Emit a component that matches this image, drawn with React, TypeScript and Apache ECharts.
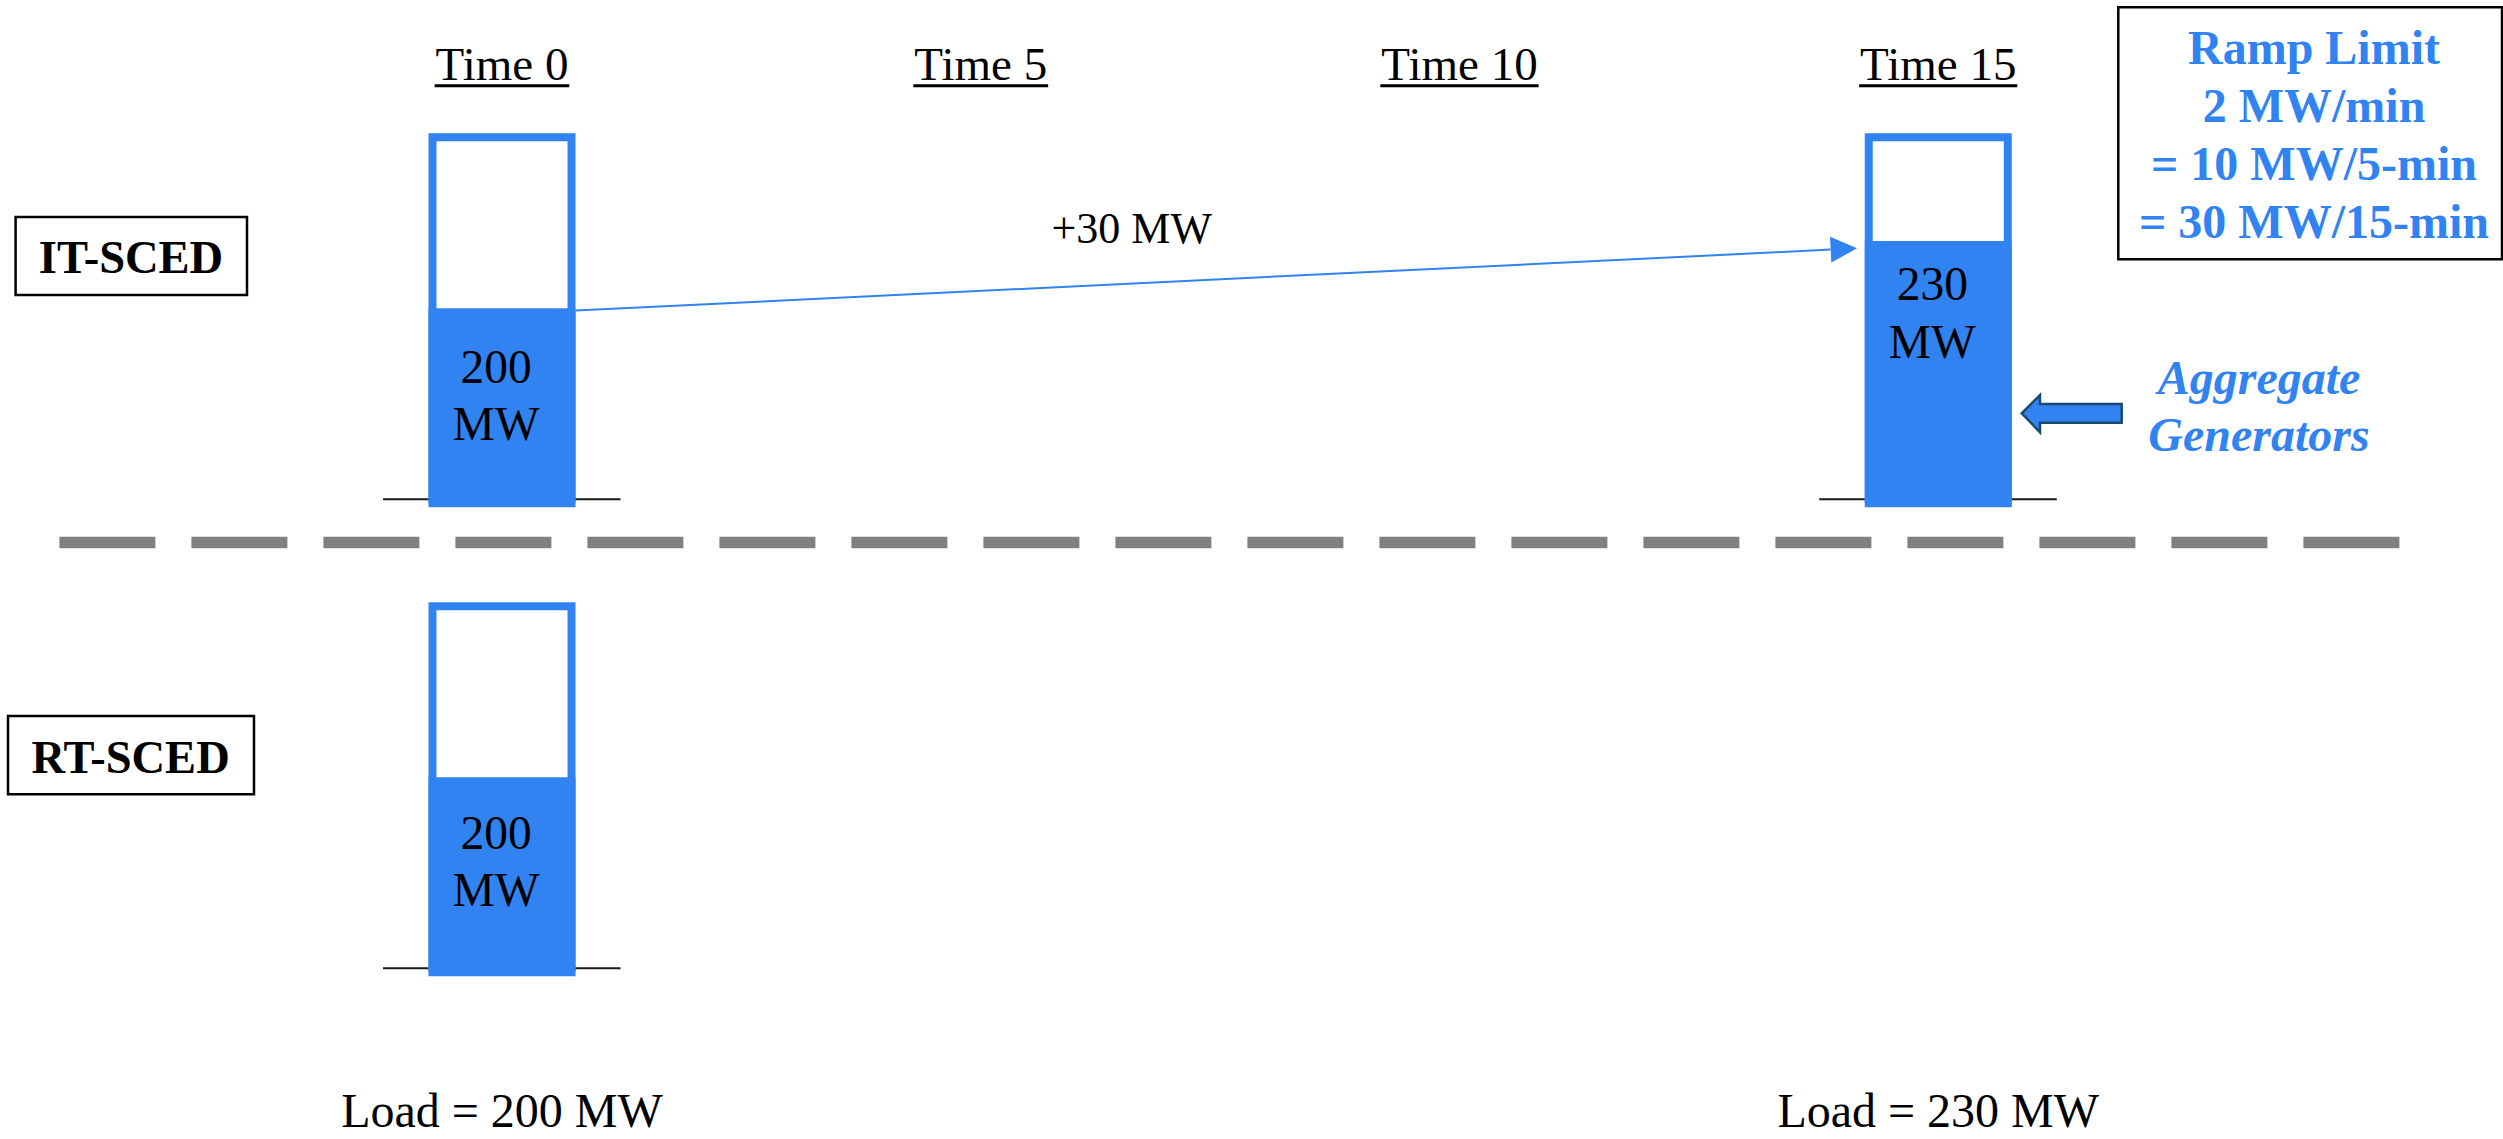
import React, { useEffect, useRef } from 'react';
import * as echarts from 'echarts';

// ---- data ----
const timeMarks = [0, 5, 10, 15];
const timeLabels = ['Time 0', 'Time 5', 'Time 10', 'Time 15'];

// IT-SCED dispatch of the aggregate generators (MW) at each interval shown
const itScedTimes = [0, 15];
const itScedMw = [200, 230];

// RT-SCED dispatch (MW)
const rtScedTimes = [0];
const rtScedMw = [200];

// system load (MW)
const loadTimes = [0, 15];
const loadMw = [200, 230];

// ramp limit of the aggregate generators
const rampMwPerMin = 2;

// column scale: bottom and top of each generator column (MW)
const UNIT_FLOOR_MW = 113;
const UNIT_CAP_MW = 278;

// ---- styles ----
const W = 2503;
const H = 1139;
const BLUE = '#3083F0';
const SERIF = '"Liberation Serif", "Times New Roman", Times, serif';
const BAR_W = 147;
const BAR_BORDER = 8;
const GRID_LEFT = 502;
const GRID_WIDTH = 1436.25;
const GRID_HEIGHT = 370;
const IT_TOP = 133.3;
const RT_TOP = 602.3;

// vertical position of the in-column label, measured down from the fill top
const itLabelDrop = [30, 14.5];
const rtLabelDrop = [27];

let measureCtx: CanvasRenderingContext2D | null = null;
function textWidth(text: string, font: string): number {
  if (!measureCtx) measureCtx = document.createElement('canvas').getContext('2d');
  if (!measureCtx) return text.length * 24;
  measureCtx.font = font;
  return measureCtx.measureText(text).width;
}

function makeUnitRenderer(labelDrop: number[]) {
  return (params: any, api: any) => {
    const t = api.value(0);
    const mw = api.value(1);
    const [cx, yFill] = api.coord([t, mw]);
    const yTop = api.coord([t, UNIT_CAP_MW])[1];
    const yBase = api.coord([t, UNIT_FLOOR_MW])[1];
    const half = BAR_W / 2;
    return {
      type: 'group',
      children: [
        {
          type: 'line',
          shape: { x1: cx - 119, y1: yBase - 4, x2: cx + 118.5, y2: yBase - 4 },
          style: { stroke: '#1a1a1a', lineWidth: 2 },
        },
        {
          type: 'rect',
          shape: {
            x: cx - half + BAR_BORDER / 2,
            y: yTop + BAR_BORDER / 2,
            width: BAR_W - BAR_BORDER,
            height: yBase - yTop - BAR_BORDER / 2,
          },
          style: { fill: '#ffffff', stroke: BLUE, lineWidth: BAR_BORDER },
        },
        {
          type: 'rect',
          shape: { x: cx - half, y: yFill, width: BAR_W, height: yBase - yFill },
          style: { fill: BLUE },
        },
        {
          type: 'text',
          x: cx - 6,
          y: yFill + labelDrop[params.dataIndex],
          style: {
            text: `${mw}\nMW`,
            fontSize: 47.5,
            fontFamily: SERIF,
            fill: '#000',
            align: 'center',
            verticalAlign: 'top',
            lineHeight: 57.5,
          },
        },
      ],
    };
  };
}

function renderTimeHeader(params: any, api: any) {
  const t = api.value(0);
  const [cx, yTop] = api.coord([t, UNIT_CAP_MW]);
  const label = timeLabels[params.dataIndex];
  const w = textWidth(label, `47px ${SERIF}`);
  return {
    type: 'group',
    children: [
      {
        type: 'text',
        x: cx,
        y: yTop - 69.5,
        style: {
          text: label,
          fontSize: 47,
          fontFamily: SERIF,
          fill: '#000',
          align: 'center',
          verticalAlign: 'middle',
        },
      },
      {
        type: 'line',
        shape: { x1: cx - w / 2 - 1, y1: yTop - 47.6, x2: cx + w / 2 + 1, y2: yTop - 47.6 },
        style: { stroke: '#000', lineWidth: 3 },
      },
    ],
  };
}

function renderLoad(params: any, api: any) {
  const t = api.value(0);
  const mw = api.value(1);
  const cx = api.coord([t, UNIT_FLOOR_MW])[0];
  const yBase = api.coord([t, UNIT_FLOOR_MW])[1];
  return {
    type: 'text',
    x: cx,
    y: yBase + 138,
    style: {
      text: `Load = ${mw} MW`,
      fontSize: 48,
      fontFamily: SERIF,
      fill: '#000',
      align: 'center',
      verticalAlign: 'middle',
      lineHeight: 40,
    },
  };
}

function renderRampArrow(params: any, api: any) {
  const t0 = api.value(0);
  const mw0 = api.value(1);
  const t1 = api.value(2);
  const mw1 = api.value(3);
  const start = api.coord([t0, mw0]);
  const end = api.coord([t1, mw1]);
  const sx = start[0] + BAR_W / 2;
  const sy = start[1] + 2.4;
  const tx = end[0] - BAR_W / 2 - 7.7;
  const ty = end[1] + 7.4;
  const ang = Math.atan2(ty - sy, tx - sx);
  const headLen = 26.4;
  const headHalf = 13;
  const bx = tx - headLen * Math.cos(ang);
  const by = ty - headLen * Math.sin(ang);
  const px = -Math.sin(ang) * headHalf;
  const py = Math.cos(ang) * headHalf;
  const f = 0.434;
  const lx = sx + f * (tx - sx);
  const ly = sy + f * (ty - sy) - 55;
  return {
    type: 'group',
    children: [
      {
        type: 'line',
        shape: { x1: sx, y1: sy, x2: bx, y2: by },
        style: { stroke: BLUE, lineWidth: 2 },
      },
      {
        type: 'polygon',
        shape: { points: [[tx, ty], [bx + px, by + py], [bx - px, by - py]] },
        style: { fill: BLUE },
      },
      {
        type: 'text',
        x: lx,
        y: ly,
        style: {
          text: `+${mw1 - mw0} MW`,
          fontSize: 44,
          fontFamily: SERIF,
          fill: '#000',
          align: 'center',
          verticalAlign: 'middle',
        },
      },
    ],
  };
}

function buildOption(): any {
  const itData = itScedTimes.map((t, i) => [t, itScedMw[i]]);
  const rtData = rtScedTimes.map((t, i) => [t, rtScedMw[i]]);
  const loadData = loadTimes.map((t, i) => [t, loadMw[i]]);
  const headerData = timeMarks.map((t) => [t, UNIT_CAP_MW]);
  const arrowData = [[itScedTimes[0], itScedMw[0], itScedTimes[1], itScedMw[1]]];

  const rampLines = [
    'Ramp Limit',
    `${rampMwPerMin} MW/min`,
    `= ${rampMwPerMin * 5} MW/5-min`,
    `= ${rampMwPerMin * 15} MW/15-min`,
  ].join('\n');

  const xAxisBase = { type: 'value', min: 0, max: 15, show: false };
  const yAxisBase = { type: 'value', min: UNIT_FLOOR_MW, max: UNIT_CAP_MW, show: false };

  return {
    animation: false,
    backgroundColor: '#ffffff',
    grid: [
      { left: GRID_LEFT, top: IT_TOP, width: GRID_WIDTH, height: GRID_HEIGHT },
      { left: GRID_LEFT, top: RT_TOP, width: GRID_WIDTH, height: GRID_HEIGHT },
    ],
    xAxis: [
      { ...xAxisBase, gridIndex: 0 },
      { ...xAxisBase, gridIndex: 1 },
    ],
    yAxis: [
      { ...yAxisBase, gridIndex: 0 },
      { ...yAxisBase, gridIndex: 1 },
    ],
    series: [
      {
        name: 'Time headers',
        type: 'custom',
        xAxisIndex: 0,
        yAxisIndex: 0,
        clip: false,
        silent: true,
        data: headerData,
        renderItem: renderTimeHeader,
      },
      {
        name: 'IT-SCED',
        type: 'custom',
        xAxisIndex: 0,
        yAxisIndex: 0,
        clip: false,
        silent: true,
        data: itData,
        renderItem: makeUnitRenderer(itLabelDrop),
      },
      {
        name: 'Ramp',
        type: 'custom',
        xAxisIndex: 0,
        yAxisIndex: 0,
        clip: false,
        silent: true,
        encode: { x: [0, 2], y: [1, 3] },
        data: arrowData,
        renderItem: renderRampArrow,
      },
      {
        name: 'RT-SCED',
        type: 'custom',
        xAxisIndex: 1,
        yAxisIndex: 1,
        clip: false,
        silent: true,
        data: rtData,
        renderItem: makeUnitRenderer(rtLabelDrop),
      },
      {
        name: 'Load',
        type: 'custom',
        xAxisIndex: 1,
        yAxisIndex: 1,
        clip: false,
        silent: true,
        data: loadData,
        renderItem: renderLoad,
      },
    ],
    graphic: [
      // section separator
      {
        type: 'line',
        silent: true,
        shape: { x1: 59.4, y1: 542.5, x2: 2399.8, y2: 542.5 },
        style: { stroke: '#808080', lineWidth: 11.7, lineDash: [96, 36] },
      },
      // IT-SCED tag
      {
        type: 'rect',
        silent: true,
        shape: { x: 15.6, y: 217, width: 231.4, height: 78 },
        style: { fill: '#fff', stroke: '#000', lineWidth: 2.5 },
      },
      {
        type: 'text',
        silent: true,
        x: 131,
        y: 257.5,
        style: {
          text: 'IT-SCED',
          fontSize: 46.5,
          fontWeight: 'bold',
          fontFamily: SERIF,
          fill: '#000',
          align: 'center',
          verticalAlign: 'middle',
          textAlign: 'center',
          textVerticalAlign: 'middle',
        },
      },
      // RT-SCED tag
      {
        type: 'rect',
        silent: true,
        shape: { x: 8, y: 716, width: 246, height: 78.3 },
        style: { fill: '#fff', stroke: '#000', lineWidth: 2.5 },
      },
      {
        type: 'text',
        silent: true,
        x: 130.6,
        y: 757.6,
        style: {
          text: 'RT-SCED',
          fontSize: 46.5,
          fontWeight: 'bold',
          fontFamily: SERIF,
          fill: '#000',
          align: 'center',
          verticalAlign: 'middle',
          textAlign: 'center',
          textVerticalAlign: 'middle',
        },
      },
      // ramp limit box
      {
        type: 'rect',
        silent: true,
        shape: { x: 2118.3, y: 7.3, width: 383.7, height: 252 },
        style: { fill: '#fff', stroke: '#000', lineWidth: 2.5 },
      },
      {
        type: 'text',
        silent: true,
        x: 2314,
        y: 18.9,
        style: {
          text: rampLines,
          fontSize: 48,
          fontWeight: 'bold',
          fontFamily: SERIF,
          fill: BLUE,
          align: 'center',
          verticalAlign: 'top',
          textAlign: 'center',
          textVerticalAlign: 'top',
          lineHeight: 57.8,
        },
      },
      // block arrow pointing at the aggregate generator column
      {
        type: 'polygon',
        silent: true,
        shape: {
          points: [
            [2021.7, 413.3],
            [2040, 395],
            [2040, 404],
            [2121.7, 404],
            [2121.7, 422.7],
            [2040, 422.7],
            [2040, 432.3],
          ],
        },
        style: { fill: BLUE, stroke: '#1A4A6E', lineWidth: 2.5, lineJoin: 'miter' },
      },
      {
        type: 'text',
        silent: true,
        x: 2259,
        y: 348.6,
        style: {
          text: 'Aggregate\nGenerators',
          fontSize: 48,
          fontWeight: 'bold',
          fontStyle: 'italic',
          fontFamily: SERIF,
          fill: BLUE,
          align: 'center',
          verticalAlign: 'top',
          textAlign: 'center',
          textVerticalAlign: 'top',
          lineHeight: 57,
        },
      },
    ],
  };
}

export default function App() {
  const ref = useRef<HTMLDivElement>(null);
  useEffect(() => {
    if (!ref.current) return;
    const chart = echarts.init(ref.current, null, { renderer: 'svg' });
    chart.setOption(buildOption());
    return () => chart.dispose();
  }, []);
  return (
    <div
      ref={ref}
      style={{ position: 'absolute', left: 0, top: 0, width: W, height: H, background: '#ffffff' }}
    />
  );
}
